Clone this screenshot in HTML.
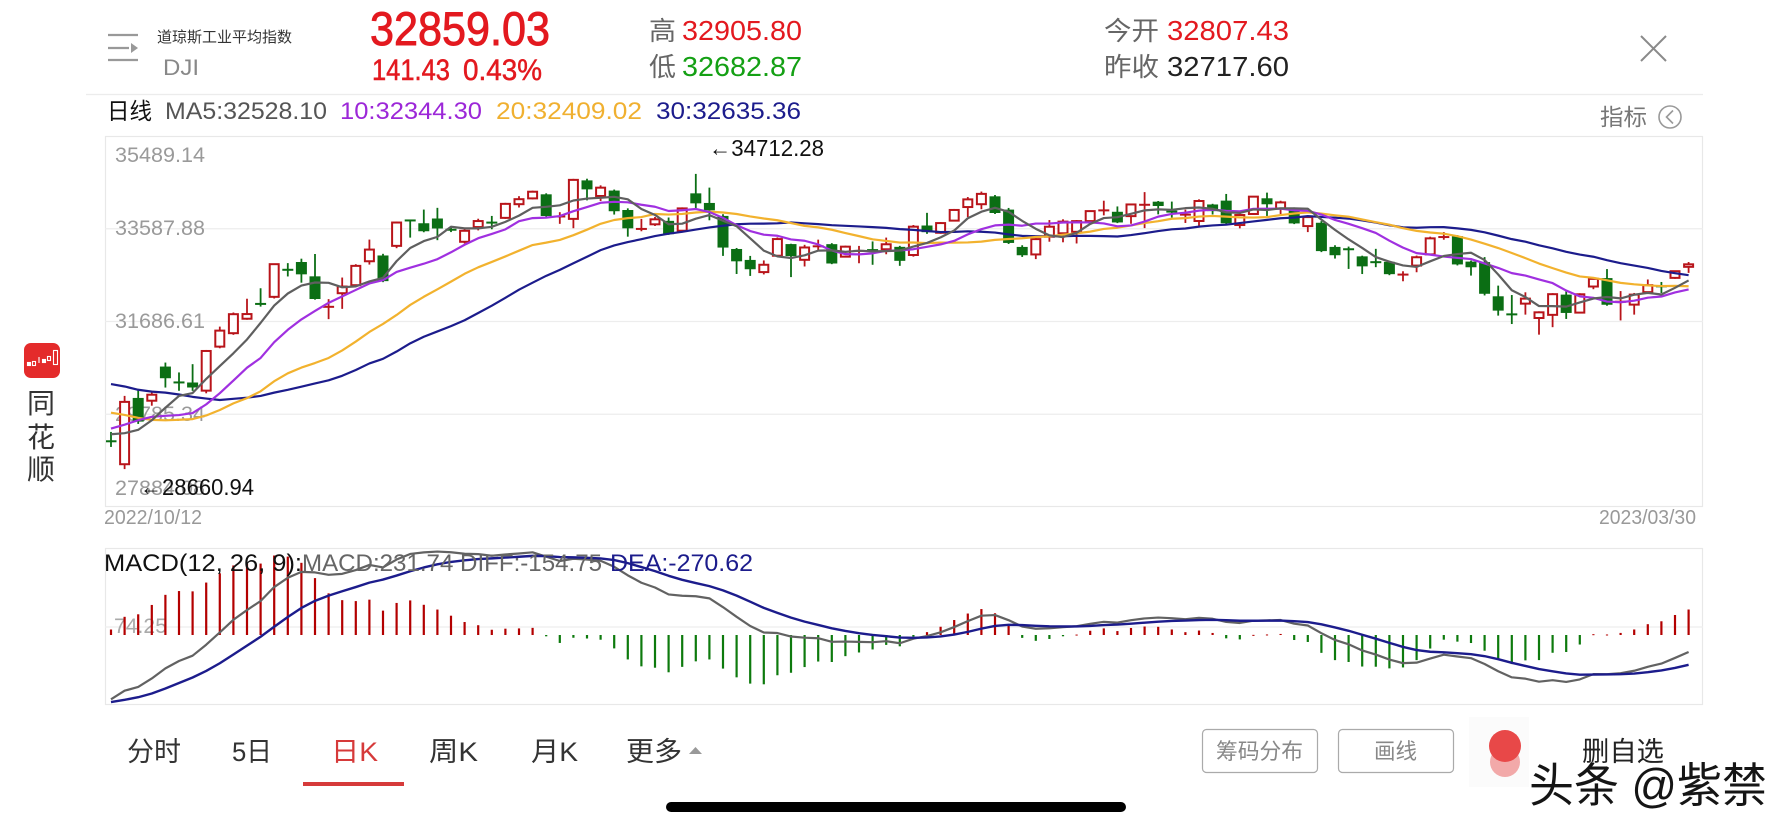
<!DOCTYPE html>
<html><head><meta charset="utf-8">
<style>
html,body{margin:0;padding:0;background:#fff;}
#wrap{position:relative;width:1792px;height:828px;overflow:hidden;background:#fff;}
#wrap svg{position:absolute;left:0;top:0;}
text{font-family:"Liberation Sans","Noto Sans CJK SC",sans-serif;}
</style></head>
<body>
<div id="wrap">
<svg id="bg" width="1792" height="828" viewBox="0 0 1792 828">
  <g stroke="#999" stroke-width="2.2" fill="none">
    <line x1="108" y1="35" x2="138" y2="35"/>
    <line x1="108" y1="48" x2="129" y2="48"/>
    <line x1="108" y1="60" x2="138" y2="60"/>
  </g>
  <polygon points="131,43 138,48 131,53" fill="#999"/>
  <text x="157" y="42" font-size="15" fill="#333" textLength="135" lengthAdjust="spacingAndGlyphs">道琼斯工业平均指数</text>
  <text x="163" y="75" font-size="22" fill="#888" textLength="36" lengthAdjust="spacingAndGlyphs">DJI</text>
  <text x="370" y="45" font-size="47" fill="#e3191f" stroke="#e3191f" stroke-width="0.9" textLength="180" lengthAdjust="spacingAndGlyphs">32859.03</text>
  <text x="372" y="80" font-size="30" fill="#e3191f" stroke="#e3191f" stroke-width="0.5" textLength="78" lengthAdjust="spacingAndGlyphs">141.43</text>
  <text x="463" y="80" font-size="30" fill="#e3191f" stroke="#e3191f" stroke-width="0.5" textLength="79" lengthAdjust="spacingAndGlyphs">0.43%</text>
  <text x="649" y="40" font-size="26" fill="#666" textLength="27" lengthAdjust="spacingAndGlyphs">高</text>
  <text x="682" y="40" font-size="28" fill="#e3191f" textLength="120" lengthAdjust="spacingAndGlyphs">32905.80</text>
  <text x="649" y="76" font-size="26" fill="#666" textLength="27" lengthAdjust="spacingAndGlyphs">低</text>
  <text x="682" y="76" font-size="28" fill="#14a014" textLength="120" lengthAdjust="spacingAndGlyphs">32682.87</text>
  <text x="1104" y="40" font-size="26" fill="#666" textLength="55" lengthAdjust="spacingAndGlyphs">今开</text>
  <text x="1167" y="40" font-size="28" fill="#e3191f" textLength="122" lengthAdjust="spacingAndGlyphs">32807.43</text>
  <text x="1104" y="76" font-size="26" fill="#666" textLength="55" lengthAdjust="spacingAndGlyphs">昨收</text>
  <text x="1167" y="76" font-size="28" fill="#222" textLength="122" lengthAdjust="spacingAndGlyphs">32717.60</text>
  <g stroke="#8a8a8a" stroke-width="2">
    <line x1="1641" y1="36" x2="1666" y2="61"/>
    <line x1="1666" y1="36" x2="1641" y2="61"/>
  </g>
  <line x1="86" y1="94.5" x2="1703" y2="94.5" stroke="#ececec" stroke-width="1.2"/>

  <text x="107" y="119" font-size="23" fill="#111" textLength="45" lengthAdjust="spacingAndGlyphs">日线</text>
  <text x="165" y="119" font-size="24" fill="#555" textLength="162" lengthAdjust="spacingAndGlyphs">MA5:32528.10</text>
  <text x="340" y="119" font-size="24" fill="#9c27d8" textLength="142" lengthAdjust="spacingAndGlyphs">10:32344.30</text>
  <text x="496" y="119" font-size="24" fill="#f0b030" textLength="146" lengthAdjust="spacingAndGlyphs">20:32409.02</text>
  <text x="656" y="119" font-size="24" fill="#1c1c8c" textLength="145" lengthAdjust="spacingAndGlyphs">30:32635.36</text>
  <text x="1600" y="125" font-size="23" fill="#777" textLength="47" lengthAdjust="spacingAndGlyphs">指标</text>
  <circle cx="1670" cy="117" r="11" fill="none" stroke="#999" stroke-width="1.6"/>
  <polyline points="1673,110.5 1666.5,117 1673,123.5" fill="none" stroke="#999" stroke-width="1.6"/>

  <rect x="105.5" y="136.5" width="1597" height="370" fill="none" stroke="#e8e8e8" stroke-width="1.2"/>
  <g stroke="#ededed" stroke-width="1.2">
    <line x1="105" y1="228.75" x2="1703" y2="228.75"/>
    <line x1="105" y1="321.5" x2="1703" y2="321.5"/>
    <line x1="105" y1="414.25" x2="1703" y2="414.25"/>
  </g>
  <g font-size="21" fill="#9a9a9a">
    <text x="115" y="162" textLength="90" lengthAdjust="spacingAndGlyphs">35489.14</text>
    <text x="115" y="235" textLength="90" lengthAdjust="spacingAndGlyphs">33587.88</text>
    <text x="115" y="328" textLength="90" lengthAdjust="spacingAndGlyphs">31686.61</text>
    <text x="115" y="421" textLength="90" lengthAdjust="spacingAndGlyphs">29785.34</text>
    <text x="115" y="495" textLength="90" lengthAdjust="spacingAndGlyphs">27884.08</text>
  </g>
  <text x="104" y="524" font-size="20" fill="#999" textLength="98" lengthAdjust="spacingAndGlyphs">2022/10/12</text>
  <text x="1599" y="524" font-size="20" fill="#999" textLength="97" lengthAdjust="spacingAndGlyphs">2023/03/30</text>

  <rect x="105.5" y="548.5" width="1597" height="156" fill="none" stroke="#e8e8e8" stroke-width="1.2"/>
  <line x1="105" y1="627" x2="1703" y2="627" stroke="#ededed" stroke-width="1.2"/>
  <text x="114" y="633" font-size="21" fill="#aaa" textLength="53" lengthAdjust="spacingAndGlyphs">74.25</text>

  <rect x="24" y="343" width="36" height="35" rx="7" fill="#e42b2b"/>
  <g fill="none" stroke="#fff" stroke-width="1.1">
    <rect x="27.5" y="362.5" width="3" height="3" fill="#fff"/>
    <rect x="32.5" y="361.5" width="3" height="4"/>
    <line x1="39" y1="357" x2="39" y2="363"/>
    <rect x="42.5" y="359.5" width="3" height="3" fill="#fff"/>
    <rect x="47.5" y="356.5" width="3" height="4"/>
    <rect x="53.5" y="350.5" width="4" height="14"/>
  </g>
  <text x="41" y="413" font-size="28" fill="#333" text-anchor="middle">同</text>
  <text x="41" y="447" font-size="28" fill="#333" text-anchor="middle">花</text>
  <text x="41" y="479" font-size="28" fill="#333" text-anchor="middle">顺</text>

  <g font-size="27" fill="#333">
    <text x="127" y="761" textLength="54" lengthAdjust="spacingAndGlyphs">分时</text>
    <text x="232" y="761" textLength="40" lengthAdjust="spacingAndGlyphs">5日</text>
    <text x="331" y="761" fill="#d63a3a" textLength="47" lengthAdjust="spacingAndGlyphs">日K</text>
    <text x="429" y="761" textLength="49" lengthAdjust="spacingAndGlyphs">周K</text>
    <text x="531" y="761" textLength="47" lengthAdjust="spacingAndGlyphs">月K</text>
    <text x="626" y="761" textLength="56" lengthAdjust="spacingAndGlyphs">更多</text>
  </g>
  <polygon points="689,754 702,754 695.5,747" fill="#999"/>
  <rect x="303" y="782" width="101" height="4" fill="#d63a3a"/>
  <rect x="666" y="802" width="460" height="10" rx="5" fill="#000"/>

  <rect x="1202.5" y="729.5" width="115" height="43" rx="4" fill="#fff" stroke="#aaa" stroke-width="1.2"/>
  <text x="1216" y="759" font-size="22" fill="#888" textLength="87" lengthAdjust="spacingAndGlyphs">筹码分布</text>
  <rect x="1338.5" y="729.5" width="115" height="43" rx="4" fill="#fff" stroke="#aaa" stroke-width="1.2"/>
  <text x="1374" y="759" font-size="22" fill="#888" textLength="43" lengthAdjust="spacingAndGlyphs">画线</text>
  <rect x="1469" y="717" width="60" height="70" fill="#fbfbfb"/>
  <circle cx="1505" cy="762" r="15" fill="#f2a9a9"/>
  <circle cx="1505" cy="746" r="16" fill="#e84848"/>
  <text x="1582" y="761" font-size="27" fill="#222" textLength="82" lengthAdjust="spacingAndGlyphs">删自选</text>
  <text x="1529" y="802" font-size="47" fill="#151515" stroke="#fff" stroke-width="0.8" paint-order="stroke" textLength="238" lengthAdjust="spacingAndGlyphs">头条 @紫禁</text>
</svg>
<div id="plot"></div>
<svg id="fg" width="1792" height="828" viewBox="0 0 1792 828">
  <text x="709" y="156" font-size="23" fill="#111" textLength="115" lengthAdjust="spacingAndGlyphs">←34712.28</text>
  <text x="140" y="495" font-size="23" fill="#111" textLength="114" lengthAdjust="spacingAndGlyphs">←28660.94</text>
  <text x="104" y="571" font-size="24" fill="#111" textLength="198" lengthAdjust="spacingAndGlyphs">MACD(12, 26, 9):</text>
  <text x="302" y="571" font-size="24" fill="#666" textLength="300" lengthAdjust="spacingAndGlyphs">MACD:231.74 DIFF:-154.75</text>
  <text x="610" y="571" font-size="24" fill="#1c1c8c" textLength="143" lengthAdjust="spacingAndGlyphs">DEA:-270.62</text>
</svg>
</div>
<script>
(function(){
var C=[29210.85,30038.72,29634.83,30185.82,30523.80,30423.81,30333.59,31082.56,31499.62,31836.74,31839.11,32033.28,32861.80,32732.95,
32653.20,32147.76,32001.25,32403.22,32827.00,33160.83,32513.94,33715.37,33747.86,33536.70,33592.92,33553.83,33546.32,33745.69,33700.28,34098.10,34194.06,34347.03,33849.46,33852.53,34589.77,
34395.01,34429.88,33947.10,33596.34,33597.92,33781.48,33476.46,34005.04,34108.64,33966.35,33202.22,32920.46,32757.54,32849.74,33376.48,33027.49,33203.93,33241.56,32875.71,33220.80,33147.25,
33136.37,33269.77,32930.08,33630.61,33517.65,33704.10,33973.01,34189.97,34302.61,33910.85,33296.96,33044.56,33375.49,33629.56,33733.96,33743.84,33949.41,33978.08,33717.09,34086.04,
34092.96,34053.94,33926.01,33891.02,34156.69,33949.01,33699.88,33869.27,34245.93,34089.27,34128.05,33696.85,33826.69,33129.59,33045.09,33153.91,32816.92,32889.09,32656.70,
32661.84,33003.57,33390.97,33431.44,32856.46,32798.40,32254.86,31909.64,31819.14,32155.40,31874.57,32246.55,31861.98,32244.58,32560.60,32030.11,32105.25,32237.53,32432.08,32394.25,32717.60,32859.03];
var pre=[31510.43,31656.42,31318.44,31145.30,31581.28,31774.52,32151.71,32381.34,31104.97,31135.09,30961.82,30822.42,31019.68,30706.23,30183.78,30076.68,29590.41,29260.81,29134.99,29683.74,29225.61,28725.51,29490.89,30316.32,30273.87,29926.94,29296.79,29202.88,29239.19];
var K=("g 960 966 935 980|r 848 1035 830 1048|g 822 893 795 900|r 822 840 810 855|g 745 780 733 808|g 788 792 760 815|g 790 805 735 815|r 693 812 690 820|r 632 680 620 685|r 583 640 578 645|"+
"r 583 597 537 600|g 550 554 505 560|r 432 530 430 535|g 448 452 430 470|g 428 465 418 490|g 470 538 403 540|r 558 562 537 597|r 500 520 473 567|r 435 493 430 495|r 390 425 360 435|"+
"g 410 487 405 490|r 308 378 305 385|g 297 300 297 350|g 313 337 272 340|g 300 330 268 365|g 323 327 315 332|r 332 365 325 370|r 302 320 295 330|g 303 307 285 325|r 253 295 250 298|"+
"r 237 252 228 262|r 213 233 210 236|g 225 290 222 292|r 288 292 277 312|r 180 297 177 325|g 185 212 180 245|r 205 230 198 245|g 213 275 210 285|g 270 325 265 350|r 328 332 300 337|"+
"r 295 310 288 315|g 300 340 290 342|r 268 335 265 338|g 225 255 162 270|g 253 275 207 305|g 290 385 285 410|g 388 425 385 463|g 422 450 410 470|r 433 455 420 462|r 355 405 350 408|"+
"g 376 412 375 475|r 383 420 375 440|r 378 382 360 395|g 375 433 372 435|r 380 410 377 412|r 393 397 380 432|g 386 390 362 432|r 375 390 355 405|g 383 425 380 440|r 320 405 315 410|"+
"g 315 335 277 340|r 308 337 305 340|r 268 300 265 302|r 237 260 230 290|r 222 253 215 268|g 232 282 228 285|g 270 370 265 373|g 385 410 380 415|r 357 403 352 417|r 320 350 300 365|"+
"r 305 340 298 367|r 303 335 300 370|r 270 300 268 303|r 270 274 243 287|g 278 310 262 312|r 255 290 255 313|r 253 257 217 325|g 247 260 245 285|g 270 274 242 290|r 283 287 270 310|"+
"r 240 300 235 318|g 245 265 243 275|g 250 318 230 322|r 285 315 280 325|r 230 282 228 285|g 237 255 220 290|r 250 268 245 285|g 270 313 265 315|r 290 317 285 335|g 310 395 305 398|"+
"g 385 410 380 420|g 381 385 375 442|g 412 442 410 465|g 423 427 385 440|g 428 465 425 468|r 463 467 455 485|r 415 440 410 460|r 357 405 352 408|r 345 349 332 355|g 350 435 347 438|"+
"g 428 445 425 470|g 430 525 415 530|g 532 575 500 590|g 581 585 525 612|r 537 552 518 585|r 578 595 575 645|r 523 585 520 622|g 525 580 515 598|r 523 578 520 580|r 477 500 475 508|"+
"g 475 555 448 558|r 520 524 490 578|r 525 555 520 585|r 497 518 480 520|g 493 497 482 515|r 457 477 455 480|r 438 442 427 457").split('|');
var n=C.length;
var X0=111,DX=13.6,TOP=136,BOT=507,PMAX=35489.14,PMIN=27884.08;
var sc=(BOT-TOP)/(PMAX-PMIN),U=1/(3*sc);
function Y(p){return TOP+(PMAX-p)*sc;}
function XX(i){return X0+i*DX;}
function f(v){return v.toFixed(2);}
var RED='#b8141a',GRN='#0b6e14';
var s='<svg width="1792" height="828" viewBox="0 0 1792 828" style="position:absolute;left:0;top:0">';
s+='<defs><clipPath id="cp1"><rect x="106" y="137" width="1596" height="369"/></clipPath><clipPath id="cp2"><rect x="106" y="549" width="1596" height="155"/></clipPath></defs>';
s+='<g clip-path="url(#cp1)">';
for(var i=0;i<n;i++){
  var a=K[i].trim().split(/\s+/);
  var col=a[0],t=+a[1],b=+a[2],h=+a[3],l=+a[4];
  var c=C[i];
  var zc=(col==='r')?t:b, zo=(col==='r')?b:t;
  var o=c+(zc-zo)*U, hi=c+(zc-h)*U, lo=c-(l-zc)*U;
  if(i===1)lo=28660.94;
  if(i===43)hi=34712.28;
  if(i===n-1){o=32807.43;hi=32905.80;lo=32682.87;}
  hi=Math.max(hi,o,c);lo=Math.min(lo,o,c);
  var x=XX(i),yt=Y(Math.max(o,c)),yb=Y(Math.min(o,c)),yh=Y(hi),yl=Y(lo);
  var clr=(col==='r')?RED:GRN;
  var hg=yb-yt;
  s+='<line x1="'+f(x)+'" y1="'+f(yh)+'" x2="'+f(x)+'" y2="'+f(yl)+'" stroke="'+clr+'" stroke-width="1.8"/>';
  if(col==='r'){
    if(hg<2.5){s+='<line x1="'+f(x-5.5)+'" y1="'+f(yt+hg/2)+'" x2="'+f(x+5.5)+'" y2="'+f(yt+hg/2)+'" stroke="'+clr+'" stroke-width="2"/>';}
    else{s+='<rect x="'+f(x-4.5)+'" y="'+f(yt)+'" width="9" height="'+f(hg)+'" fill="#fff" stroke="'+clr+'" stroke-width="2"/>';}
  }else{
    if(hg<2.5){s+='<line x1="'+f(x-5.5)+'" y1="'+f(yt+hg/2)+'" x2="'+f(x+5.5)+'" y2="'+f(yt+hg/2)+'" stroke="'+clr+'" stroke-width="2"/>';}
    else{s+='<rect x="'+f(x-5.5)+'" y="'+f(yt)+'" width="11" height="'+f(hg)+'" fill="'+clr+'"/>';}
  }
}
var all=pre.concat(C),P=pre.length;
function ma(N){var p=[];for(var i=0;i<n;i++){var sum=0;for(var k=0;k<N;k++)sum+=all[P+i-k];p.push(f(XX(i))+','+f(Y(sum/N)));}return p.join(' ');}
var mas=[[30,'#1c1c8c'],[20,'#f2b22e'],[10,'#a030e0'],[5,'#5f5f5f']];
for(var m=0;m<mas.length;m++){
  s+='<polyline points="'+ma(mas[m][0])+'" fill="none" stroke="'+mas[m][1]+'" stroke-width="2.2" stroke-linejoin="round"/>';
}
s+='</g>';
var e12=29600,e26=30185,dea=-610,D=[],E=[],M=[];
for(var i=0;i<n;i++){
  if(i>0){e12=e12*11/13+C[i]*2/13;e26=e26*25/27+C[i]*2/27;}
  var diff=e12-e26;
  if(i>0)dea=dea*0.8+diff*0.2;
  D.push(diff);E.push(dea);M.push(2*(diff-dea));
}
var Z=635,KS=0.11;
function YM(v){return Z-v*KS;}
s+='<g clip-path="url(#cp2)">';
for(var i=0;i<n;i++){
  var x=XX(i),yv=YM(M[i]);
  var y1=Math.min(Z,yv),y2=Math.max(Z,yv);
  if(y2-y1<1)y2=y1+1;
  s+='<rect x="'+f(x-1.1)+'" y="'+f(y1)+'" width="2.2" height="'+f(y2-y1)+'" fill="'+(M[i]>=0?'#b30000':'#0d7a0d')+'"/>';
}
var pd=[],pe=[];
for(var i=0;i<n;i++){pd.push(f(XX(i))+','+f(YM(D[i])));pe.push(f(XX(i))+','+f(YM(E[i])));}
s+='<polyline points="'+pd.join(' ')+'" fill="none" stroke="#626262" stroke-width="2.2" stroke-linejoin="round"/>';
s+='<polyline points="'+pe.join(' ')+'" fill="none" stroke="#1c1c8c" stroke-width="2.4" stroke-linejoin="round"/>';
s+='</g></svg>';
document.getElementById('plot').innerHTML=s;
})();
</script>
</body></html>
